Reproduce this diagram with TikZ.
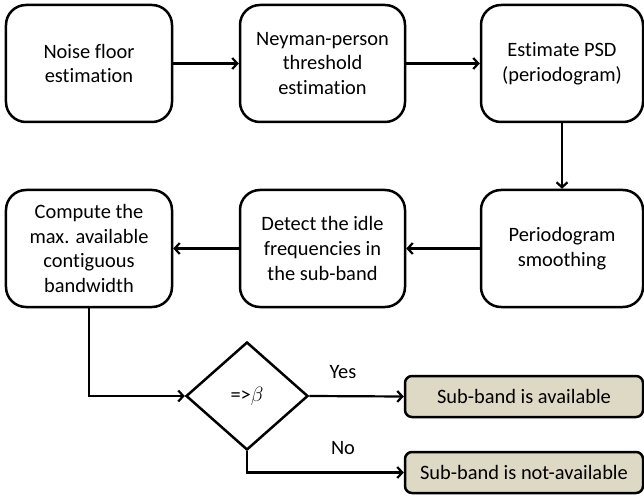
\documentclass[tikz,border=0pt]{standalone}
\usepackage{fontspec}
\setmainfont[Ligatures=NoCommon]{Carlito}
\usetikzlibrary{arrows.meta,shapes.geometric}
\definecolor{tan}{HTML}{DDD9C4}
\begin{document}
\begin{tikzpicture}[x=1bp,y=-1bp,
  box/.style={draw,line width=2.5bp,rounded corners=20bp,align=center,font=\fontsize{20.5}{25}\selectfont,inner sep=0pt},
  res/.style={draw,line width=2.5bp,rounded corners=7bp,fill=tan,align=center,font=\fontsize{20.5}{25}\selectfont,inner sep=0pt,minimum width=238bp,minimum height=41bp},
  arr/.style={line width=2.2bp,-{Straight Barb[length=5bp,width=11bp,line width=2.2bp]}},
  lbl/.style={font=\fontsize{20.5}{24}\selectfont}]
\useasboundingbox (0,0) rectangle (644,496);
\node[box,minimum width=166bp,minimum height=117bp] (b1) at (89,63.5) {Noise floor\\estimation};
\node[box,minimum width=165bp,minimum height=117bp] (b2) at (322.5,63.5) {Neyman-person\\threshold\\estimation};
\node[box,minimum width=162bp,minimum height=117bp] (b3) at (562,63.5) {Estimate PSD\\(periodogram)};
\node[box,minimum width=162bp,minimum height=117bp] (b6) at (562,248.5) {Periodogram\\smoothing};
\node[box,minimum width=165bp,minimum height=117bp] (b5) at (322.5,248.5) {Detect the idle\\frequencies in\\the sub-band};
\node[box,minimum width=166bp,minimum height=117bp] (b4) at (89,248.5) {Compute the\\max. available\\contiguous\\bandwidth};
\node[draw,line width=2.5bp,diamond,minimum width=122bp,minimum height=108bp,inner sep=0pt,font=\fontsize{20.5}{24}\selectfont] (d) at (247,396) {=>$\beta$};
\node[res] (y) at (524,396.5) {Sub-band is available};
\node[res] (n) at (524,472.5) {Sub-band is not-available};
\draw[arr] (b1) -- (b2);
\draw[arr] (b2) -- (b3);
\draw[arr] (b3) -- (b6);
\draw[arr] (b6) -- (b5);
\draw[arr] (b5) -- (b4);
\draw[arr] (b4.south) |- (d.west);
\draw[arr] (d.east) -- (y.west);
\draw[arr] (d.south) |- (n.west);
\node[lbl] (yl) at (343,372) {Yes};
\node[lbl] (nl) at (343,448) {No};
\end{tikzpicture}
\end{document}
